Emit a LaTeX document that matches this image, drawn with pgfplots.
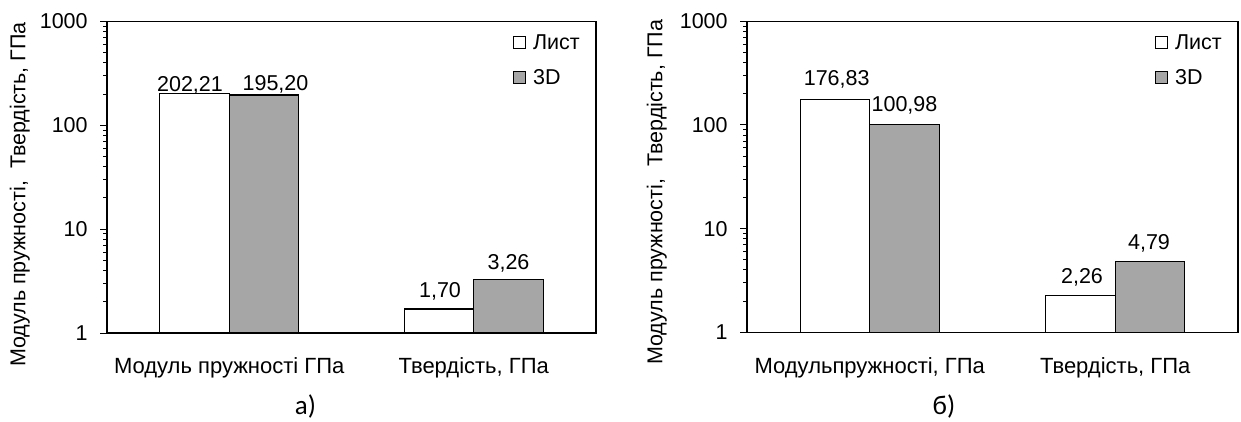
\documentclass[border=0pt]{standalone}
\usepackage{fontspec}
\setmainfont{Liberation Sans}
\newfontfamily\capfont{Carlito}
\usepackage{pgfplots}
\usepackage{pgfplotstable}
\pgfplotsset{compat=1.18}
\definecolor{barg}{RGB}{166,166,166}

\pgfplotstableread{
x y lbl dx dy
0 202.21 202,21 -4.5 9.5
1 1.70 1,70 1 19
}\leftW
\pgfplotstableread{
x y lbl dx dy
0 195.20 195,20 11.5 12
1 3.26 3,26 0 18
}\leftG
\pgfplotstableread{
x y lbl dx dy
0 176.83 176,83 1.7 20.9
1 2.26 2,26 1.5 19.6
}\rightW
\pgfplotstableread{
x y lbl dx dy
0 100.98 100,98 0 20.5
1 4.79 4,79 -1 20
}\rightG

\pgfplotsset{
  every axis/.append style={
    xmin=-0.5, xmax=1.5, ymin=1, ymax=1000,
    scale only axis, ybar=0pt, bar width=69.5pt,
    /pgf/number format/assume math mode=true,
    xtick={0,1}, xtick style={draw=none},
    ytick={1,10,100,1000}, yticklabels={1,10,100,1000},
    minor ytick={2,3,4,5,6,7,8,9,20,30,40,50,60,70,80,90,200,300,400,500,600,700,800,900},
    ytick pos=left, tick align=outside,
    major tick length=7pt, minor tick length=4pt,
    every tick/.append style={black, line width=1pt},
    axis line style={black, line width=1.6pt},
    yticklabel style={anchor=east, xshift=-5pt},
    xticklabel style={anchor=base, yshift=-34pt, font=\fontsize{22}{26}\selectfont},
    legend style={draw=none, fill=none, at={(1,1)}, anchor=north east,
      xshift=-16pt, yshift=-13pt, inner sep=0pt, row sep=20pt, column sep=7pt,
      cells={anchor=west}, nodes={inner sep=0pt, text height=15pt, text depth=0pt}},
  },
}

\begin{document}
{\fontsize{21.5}{25}\selectfont
\begin{tikzpicture}
\useasboundingbox (0,0) rectangle (1241pt,421pt);

\begin{axis}[ymode=log, at={(107pt,88pt)}, anchor=south west, width=489pt, height=311.5pt,
  xticklabels={Модуль пружності ГПа, {Твердість, ГПа}},
  nodes near coords, point meta=explicit symbolic,
  visualization depends on={\thisrow{dx}\as\dx},
  visualization depends on={\thisrow{dy}\as\dy},
  nodes near coords style={anchor=center, inner sep=0pt, text height=15pt, text depth=0pt,
      xshift=\dx pt, yshift=\dy pt, draw=none, fill=none, text=black},
  legend image code/.code={\draw[#1, line width=1pt] (0pt,-6pt) rectangle (12pt,6pt);}]
\addplot[fill=white, draw=black, line width=1.4pt] table[x=x, y=y, meta=lbl] {\leftW};
\addplot[fill=barg, draw=black, line width=1.4pt] table[x=x, y=y, meta=lbl] {\leftG};
\legend{Лист, 3D}
\end{axis}

\begin{axis}[ymode=log, at={(747pt,88.7pt)}, anchor=south west, width=491pt, height=311pt,
  xticklabels={{Модульпружності, ГПа}, {Твердість, ГПа}},
  nodes near coords, point meta=explicit symbolic,
  visualization depends on={\thisrow{dx}\as\dx},
  visualization depends on={\thisrow{dy}\as\dy},
  nodes near coords style={anchor=center, inner sep=0pt, text height=15pt, text depth=0pt,
      xshift=\dx pt, yshift=\dy pt, draw=none, fill=none, text=black},
  legend image code/.code={\draw[#1, line width=1pt] (0pt,-6pt) rectangle (12pt,6pt);}]
\addplot[fill=white, draw=black, line width=1.4pt] table[x=x, y=y, meta=lbl] {\rightW};
\addplot[fill=barg, draw=black, line width=1.4pt] table[x=x, y=y, meta=lbl] {\rightG};
\legend{Лист, 3D}
\end{axis}

\node[rotate=90, inner sep=0pt, text height=15pt, text depth=4.5pt] at (20pt,226.5pt) {Модуль пружності,\ \ Твердість, ГПа};
\node[rotate=90, inner sep=0pt, text height=15pt, text depth=4.5pt] at (657pt,228.7pt) {Модуль пружності,\ \ Твердість, ГПа};

\node[anchor=base, inner sep=0pt, font=\capfont\fontsize{27}{32}\selectfont] at (305.5pt,6.5pt) {а)};
\node[anchor=base, inner sep=0pt, font=\capfont\fontsize{27}{32}\selectfont] at (944pt,7pt) {б)};
\end{tikzpicture}}
\end{document}
